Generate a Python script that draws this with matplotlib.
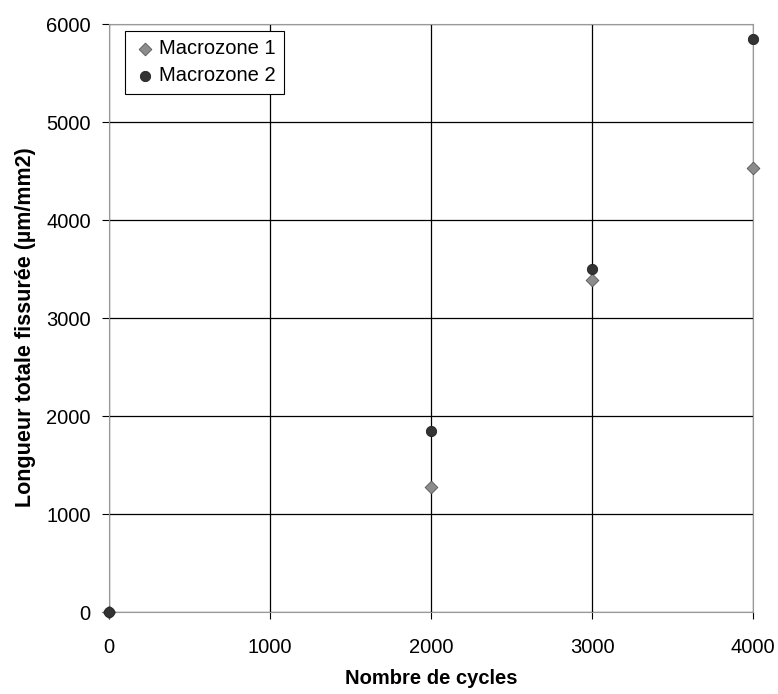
import matplotlib.pyplot as plt

plt.rcParams['font.family'] = ['Liberation Sans', 'DejaVu Sans']

cycles = [0, 2000, 3000, 4000]
macrozone1 = [0, 1275, 3390, 4530]
macrozone2 = [0, 1845, 3505, 5850]

fig = plt.figure(figsize=(7.78, 6.94), dpi=100)
ax = fig.add_axes([0.140, 0.118, 0.828, 0.847])

ax.scatter(cycles, macrozone1, marker='D', s=42, color='#8c8c8c',
           edgecolor='#555555', linewidth=0.6, label='Macrozone 1', zorder=3, clip_on=False)
ax.scatter(cycles, macrozone2, marker='o', s=55, color='#333333',
           edgecolor='#222222', linewidth=0.6, label='Macrozone 2', zorder=4, clip_on=False)

ax.set_xlim(0, 4000)
ax.set_ylim(0, 6000)
ax.set_xticks([0, 1000, 2000, 3000, 4000])
ax.set_yticks(range(0, 6001, 1000))
ax.grid(True, color='black', linewidth=0.9)
ax.set_axisbelow(True)
for s in ax.spines.values():
    s.set_color('#999999')
ax.tick_params(colors='black', labelsize=14.5, length=5, direction='out')
ax.tick_params(axis='x', pad=14)
ax.tick_params(axis='y', pad=8)

ax.set_xlabel('Nombre de cycles', fontsize=14.5, fontweight='bold', labelpad=8)
ax.set_ylabel('Longueur totale fissurée (µm/mm2)', fontsize=15.5, fontweight='bold', labelpad=6)
ax.yaxis.set_label_coords(-0.113, 0.485)

leg = ax.legend(loc='upper left', bbox_to_anchor=(0.025, 0.988), fontsize=14.5,
                frameon=True, fancybox=False, framealpha=1, edgecolor='black',
                handletextpad=0.1, borderpad=0.4, labelspacing=0.4, borderaxespad=0,
                handlelength=1.2)
leg.get_frame().set_linewidth(0.8)

plt.savefig('out.png', dpi=100)
